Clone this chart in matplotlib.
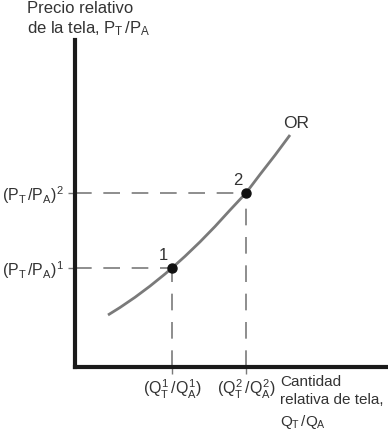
import matplotlib.pyplot as plt

plt.rcParams['font.family'] = ['Liberation Sans', 'DejaVu Sans']
plt.rcParams['mathtext.fontset'] = 'custom'
plt.rcParams['mathtext.rm'] = 'Liberation Sans'
plt.rcParams['mathtext.it'] = 'Liberation Sans'
plt.rcParams['mathtext.bf'] = 'Liberation Sans'

# OR curve (arbitrary units from the origin)
curve_x = [33, 45, 60, 75, 90, 97, 110, 125, 140, 155, 171, 185, 200, 215]
curve_y = [52, 59.5, 69.7, 80.9, 93, 99, 110.7, 125.1, 140.5, 156.9, 174, 192.5, 211.8, 232]

# equilibrium points 1 and 2
pts_x = [97, 171]
pts_y = [99, 174]
pts_names = ['1', '2']
xtick_labels = [r'$(Q^1_T\,/Q^1_A)$', r'$(Q^2_T\,/Q^2_A)$']
ytick_labels = [r'$(P_T\,/P_A)^1$', r'$(P_T\,/P_A)^2$']

txt = '#333333'
gray = '#7a7a7a'

fig = plt.figure(figsize=(3.88, 4.33), dpi=100)
ax = fig.add_axes([75 / 388, 66 / 433, 313 / 388, 327 / 433])
ax.set_xlim(0, 313)
ax.set_ylim(0, 327)

for s in ['top', 'right']:
    ax.spines[s].set_visible(False)
for s in ['left', 'bottom']:
    ax.spines[s].set_linewidth(3)
    ax.spines[s].set_color('#1a1a1a')

ax.plot(curve_x, curve_y, color=gray, lw=2, solid_capstyle='butt',
        solid_joinstyle='round')

for x, y, name in zip(pts_x, pts_y, pts_names):
    ax.plot([0, x], [y, y], color=gray, lw=1.2, dashes=(10, 7))
    ax.plot([x, x], [0, y], color=gray, lw=1.2, dashes=(10, 7))
    ax.plot(x, y, 'o', color='#111111', ms=6.5, zorder=5)
    ax.text(x - 4, y + 5, name, color=txt, fontsize=12, ha='right', va='bottom')

ax.set_xticks(pts_x)
ax.set_xticklabels(xtick_labels)
ax.set_yticks(pts_y)
ax.set_yticklabels(ytick_labels)
ax.tick_params(axis='both', direction='out', length=5, width=1, color=gray,
               labelcolor=txt, labelsize=11.5, pad=3)

ax.text(curve_x[-1] - 7, curve_y[-1] + 4, 'OR', color=txt, fontsize=12.5,
        ha='left', va='bottom')

fig.text(27 / 388, 1 - 1 / 433, 'Precio relativo\nde la tela, $P_T\\,/P_A$',
         color=txt, fontsize=12, ha='left', va='top', linespacing=1.2)
fig.text(280 / 388, 1 - 375 / 433, 'Cantidad\nrelativa de tela,\n$Q_T\\,/Q_A$',
         color=txt, fontsize=11, ha='left', va='top', linespacing=1.4)

fig.savefig('out.png', dpi=100)
